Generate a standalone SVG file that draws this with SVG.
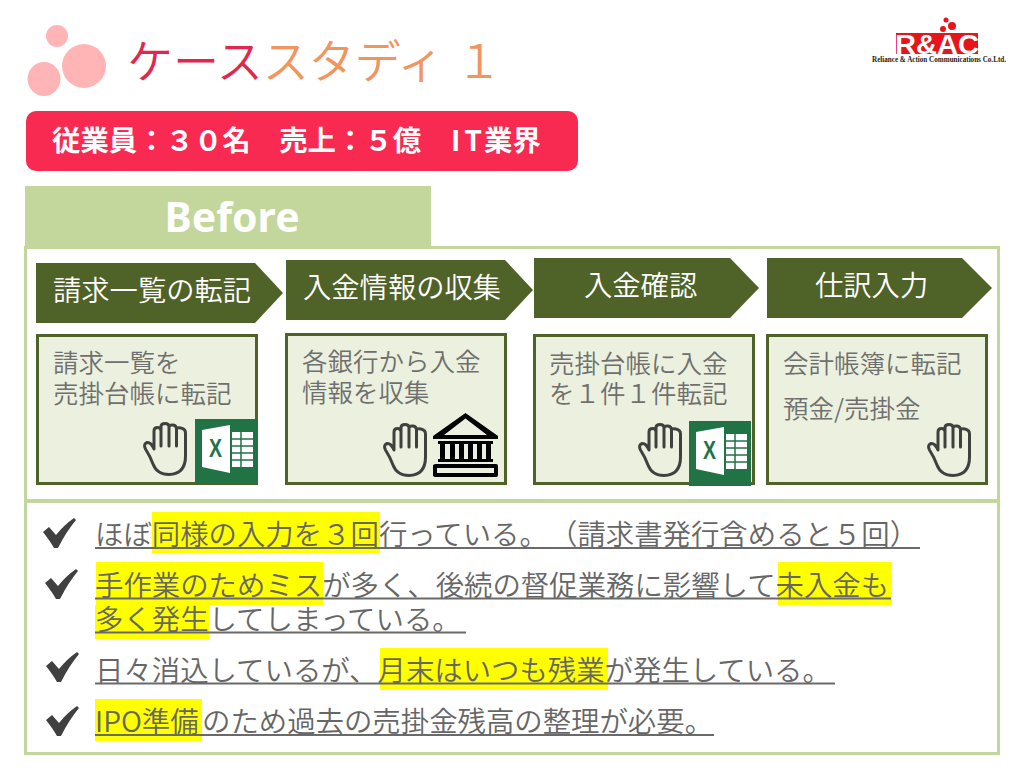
<svg xmlns="http://www.w3.org/2000/svg" width="1024" height="768" viewBox="0 0 1024 768">
<style>
text{font-family:"Noto Sans CJK JP","Noto Sans",sans-serif;white-space:pre}
.title{font-size:46px;font-weight:350}
.step{fill:#4F6228}
.steptx{font-size:28.300px;fill:#fff;font-weight:350}
.box{fill:#EBF1DE;stroke:#4F6228;stroke-width:3}
.boxtx{font-size:25.500px;fill:#6f6f6f;font-weight:350}
.frame{fill:#fff;stroke:#C3D69B;stroke-width:3}
.bul{font-size:28.400px;fill:#666;font-weight:350}
.hl{fill:#FFFF00}
.ul{stroke:#6a6a6a;stroke-width:2}
.hand{fill:none;stroke:#404040;stroke-width:3;stroke-linejoin:round;stroke-linecap:round}
</style>
<defs>
<g id="hand"><path class="hand" d="M11 27V9Q11 5.500 14.500 5.500Q18 5.500 18 9V4.500Q18 1.500 22 1.500Q26 1.500 26 4.500V5.500Q26 2.500 30 3Q33.500 3.500 33.500 7Q34 5 38 6Q42.500 7 42.500 11V34Q42.500 52 26 52.500Q14 52.500 10 42Q7 34 2.500 27Q0 22 4 20.500Q8 20 11 27ZM18 9V24M26 5V24M33.500 7V24"/></g>
<path id="check" fill="#404040" d="M0 14L6 9L13 17Q21 7 31 0L33 2Q23 14 15 30H11Q7 23 0 14Z"/>
<g id="excel">
<rect width="62" height="65" fill="#217346"/>
<path d="M7 11L35 6V54L7 48Z" fill="#fff"/>
<text x="14" y="38" font-size="25" font-weight="700" fill="#217346" textLength="13" lengthAdjust="spacingAndGlyphs" style="font-family:'Liberation Sans',sans-serif">X</text>
<rect x="37" y="13" width="21" height="35" fill="#fff"/>
<path d="M37 20H58M37 27H58M37 34H58M37 41H58M46 13V48" stroke="#217346" stroke-width="1.500" fill="none"/>
</g>
</defs>
<rect width="1024" height="768" fill="#fff"/>
<g id="header-dots" fill="#FFB5B5">
<circle cx="57" cy="36" r="11"/>
<ellipse cx="84" cy="66" rx="22" ry="22"/>
<ellipse cx="44" cy="79" rx="16.500" ry="17"/>
</g>
<g id="title"><text class="title" x="127" y="78"><tspan fill="#E0284F">ケース</tspan><tspan fill="#F0955F">スタディ</tspan></text><text class="title" x="456" y="78" fill="#F0955F">１</text></g>
<g id="logo">
<rect x="896" y="33" width="82" height="21" fill="#E8141C"/>
<circle cx="946" cy="20" r="2.500" fill="#E8141C"/><circle cx="952" cy="26" r="4" fill="#E8141C"/><circle cx="943" cy="29" r="3" fill="#E8141C"/>
<text x="895" y="53.500" font-size="27" font-weight="700" fill="#fff" textLength="84" lengthAdjust="spacingAndGlyphs" style="font-family:'Liberation Sans',sans-serif">R&amp;AC</text>
<text x="872" y="62" font-size="7.500" font-weight="700" fill="#222" textLength="134" lengthAdjust="spacingAndGlyphs" style="font-family:'Liberation Serif',serif">Reliance &amp; Action Communications Co.Ltd.</text>
</g>
<g id="summary">
<rect x="26" y="111" width="552" height="60" rx="10" fill="#F92A52"/>
<text x="52" y="151" font-size="28.400" font-weight="700" fill="#fff">従業員：３０名　売上：５億<tspan x="451" letter-spacing="4">IT</tspan><tspan x="484">業界</tspan></text>
</g>
<g id="before-frame">
<rect x="25" y="186" width="406" height="62" fill="#C3D69B"/>
<rect class="frame" x="25.500" y="247.500" width="973" height="253"/>
<text x="232" y="232" font-size="41" font-weight="700" fill="#fff" text-anchor="middle" style="font-family:'Noto Sans',sans-serif">Before</text>
</g>
<g id="step1">
<path class="step" d="M36 263H255L283 293L255 323H36Z"/>
<text class="steptx" x="53" y="301">請求一覧の転記</text>
<rect class="box" x="37.500" y="335.500" width="219" height="148"/>
<text class="boxtx" x="53" y="372">請求一覧を</text><text class="boxtx" x="53" y="403">売掛台帳に転記</text>
<use href="#excel" x="195" y="419"/><use href="#hand" x="143" y="422"/>
</g>
<g id="step2">
<path class="step" d="M286 260H505L533 290L505 320H286Z"/>
<text class="steptx" x="303" y="298">入金情報の収集</text>
<rect class="box" x="286.500" y="334.500" width="219" height="149"/>
<text class="boxtx" x="302" y="371">各銀行から入金</text><text class="boxtx" x="302" y="402">情報を収集</text>
<use href="#hand" x="383" y="423"/>
<g id="bank" fill="#000">
<path fill-rule="evenodd" d="M465.500 413L498 436V439H433V436ZM465.500 418.500L444 435H487Z"/>
<path d="M438 441H493V444H438ZM438 459H493V462H438Z"/>
<rect x="440" y="444" width="5" height="15"/><rect x="450" y="444" width="5" height="15"/><rect x="459" y="444" width="5" height="15"/><rect x="468" y="444" width="5" height="15"/><rect x="477" y="444" width="5" height="15"/><rect x="486" y="444" width="5" height="15"/>
<path fill-rule="evenodd" d="M436 464H496Q498 464 498 466V475Q498 477 496 477H436Q433 477 433 475V466Q433 464 436 464ZM437 468V473H494V468Z"/>
</g>
</g>
<g id="step3">
<path class="step" d="M534 258H730L759 288L730 318H534Z"/>
<text class="steptx" x="584" y="296">入金確認</text>
<rect class="box" x="534.500" y="335.500" width="219" height="148"/>
<text class="boxtx" x="549" y="373">売掛台帳に入金</text><text class="boxtx" x="549" y="403">を１件１件転記</text>
<use href="#excel" x="689" y="421"/><use href="#hand" x="638" y="423"/>
</g>
<g id="step4">
<path class="step" d="M767 258H962L992 288L962 318H767Z"/>
<text class="steptx" x="815" y="296">仕訳入力</text>
<rect class="box" x="767.500" y="335.500" width="219" height="148"/>
<text class="boxtx" x="783" y="373">会計帳簿に転記</text><text class="boxtx" x="783" y="418">預金/売掛金</text>
<use href="#hand" x="927" y="423"/>
</g>
<g id="notes">
<rect class="frame" x="25.500" y="501.500" width="973" height="252"/>
<rect class="hl" x="152" y="512" width="228" height="41"/>
<rect class="hl" x="96" y="562" width="227" height="43"/>
<rect class="hl" x="778" y="562" width="114" height="43"/>
<rect class="hl" x="95" y="605" width="114" height="34"/>
<rect class="hl" x="380" y="648" width="228" height="42"/>
<rect class="hl" x="95" y="699" width="107" height="42"/>
<path class="ul" d="M95 548H920M95 598.500H891M95 632.500H466M95 683.500H835M95 735H714"/>
<use href="#check" x="43" y="518"/><use href="#check" x="45" y="569"/><use href="#check" x="46" y="652"/><use href="#check" x="46" y="706"/>
<text class="bul" x="95" y="545">ほぼ同様の入力を３回行っている。<tspan x="549">（請求書発行含めると５回）</tspan></text>
<text class="bul" x="95" y="596">手作業のためミスが多く、後続の督促業務に影響して未入金も</text>
<text class="bul" x="95" y="630">多く発生してしまっている。</text>
<text class="bul" x="95" y="681">日々消込しているが、月末はいつも残業が発生している。</text>
<text class="bul" x="95" y="732">IPO準備<tspan x="202">のため過去の売掛金残高の整理が必要。</tspan></text>
</g>
</svg>
